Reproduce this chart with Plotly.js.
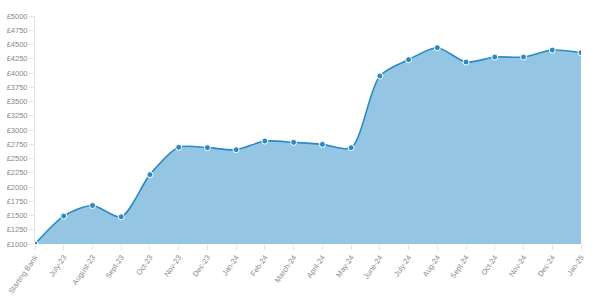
<!DOCTYPE html>
<html>
<head>
<meta charset="utf-8">
<script src="https://cdn.plot.ly/plotly-3.0.1.min.js"></script>
<style>html,body{margin:0;padding:0;background:#fff;}#chart{width:600px;height:301px;}</style>
</head>
<body>
<div id="chart"></div>
<script>
const categories = ["Starting Bank","July-23","August-23","Sept-23","Oct-23","Nov-23","Dec-23","Jan-24","Feb-24","March-24","April-24","May-24","June-24","July-24","Aug-24","Sept-24","Oct-24","Nov-24","Dec-24","Jan-25"];
const balance = [1000,1490,1675,1477,2217,2696,2690,2654,2806,2783,2748,2689,3948,4234,4444,4192,4280,4280,4402,4357];
const yTicks = [1000,1250,1500,1750,2000,2250,2500,2750,3000,3250,3500,3750,4000,4250,4500,4750,5000];
const yTickLabels = yTicks.map(v => "£" + v);

const trace = {
  x: categories,
  y: balance,
  type: "scatter",
  mode: "lines+markers",
  fill: "tozeroy",
  fillcolor: "rgba(148,198,228,1)",
  line: {color: "#2b8ac6", width: 1.6, shape: "spline", smoothing: 0.8},
  marker: {color: "#2b8ac6", size: 6, line: {color: "#ffffff", width: 1}},
  hoverinfo: "x+y"
};

const layout = {
  width: 600, height: 301,
  margin: {l: 35, r: 19, t: 16, b: 57},
  paper_bgcolor: "#fff", plot_bgcolor: "#fff",
  showlegend: false,
  font: {family: "Liberation Sans, Arial, sans-serif", size: 7.5, color: "#888"},
  xaxis: {
    type: "category",
    range: [0, categories.length - 1],
    showgrid: false, zeroline: false,
    showline: false,
    ticks: "outside", ticklen: 5, tickcolor: "#e5e5e5", tickwidth: 1,
    tickangle: -55,
    tickfont: {size: 7.5, color: "#888"}
  },
  yaxis: {
    range: [1000, 5000],
    tickvals: yTicks, ticktext: yTickLabels,
    showgrid: false, zeroline: false,
    showline: true, linecolor: "#e5e5e5", linewidth: 1,
    ticks: "outside", ticklen: 5, tickcolor: "#e5e5e5", tickwidth: 1,
    tickfont: {size: 7.5, color: "#888"}
  }
};

Plotly.newPlot("chart", [trace], layout, {displayModeBar: false, staticPlot: true});
</script>
</body>
</html>
